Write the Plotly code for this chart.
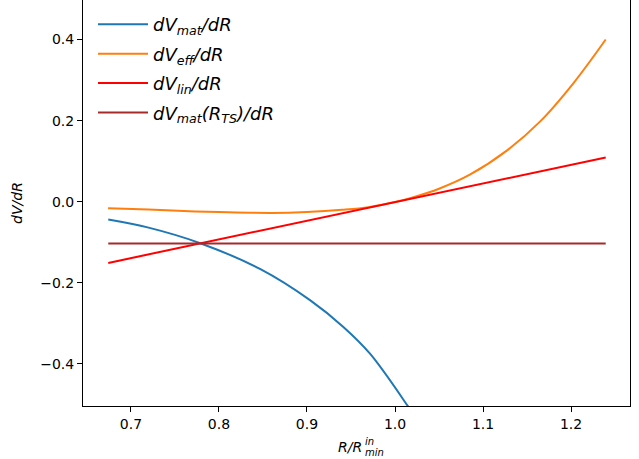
import plotly.graph_objects as go

# Data
r_mat = [0.6742, 0.72, 0.7795, 0.8466, 0.9034, 0.9413, 0.9716, 1.0148, 1.03]
dv_mat = [-0.044, -0.064, -0.103, -0.166, -0.243, -0.309, -0.375, -0.505, -0.555]

r_eff = [0.674, 0.72, 0.76, 0.80, 0.86, 0.90, 0.94, 0.97, 1.0, 1.02, 1.05, 1.085, 1.127, 1.165, 1.2026, 1.2394]
dv_eff = [-0.016, -0.0195, -0.023, -0.0255, -0.0278, -0.0255, -0.020, -0.0135, -0.001, 0.0105, 0.032, 0.0666, 0.126, 0.198, 0.292, 0.40]

r_lin = [0.6742, 1.2394]
dv_lin = [-0.151, 0.109]

r_ts = [0.6742, 1.2394]
dv_ts = [-0.103, -0.103]

x_ticks = [0.7, 0.8, 0.9, 1.0, 1.1, 1.2]
y_ticks = [-0.4, -0.2, 0.0, 0.2, 0.4]

FONT = "DejaVu Sans"

fig = go.Figure()
fig.add_trace(go.Scatter(x=r_mat, y=dv_mat, mode="lines", line=dict(color="#1f77b4", width=2, shape="spline"),
                         name="<i>dV<sub>mat</sub>/dR</i>", legendgroup="a"))
fig.add_trace(go.Scatter(x=r_eff, y=dv_eff, mode="lines", line=dict(color="#ff7f0e", width=2, shape="spline"),
                         name="<i>dV<sub>eff</sub>/dR</i>", legendgroup="b"))
fig.add_trace(go.Scatter(x=r_lin, y=dv_lin, mode="lines", line=dict(color="#ff0000", width=2),
                         name="<i>dV<sub>lin</sub>/dR</i>", legendgroup="c"))
fig.add_trace(go.Scatter(x=r_ts, y=dv_ts, mode="lines", line=dict(color="#a52a2a", width=2),
                         name="<i>dV<sub>mat</sub>(R<sub>TS</sub>)/dR</i>", legendgroup="d"))

fig.update_layout(
    width=639, height=459,
    margin=dict(l=83, r=9, t=0, b=53, autoexpand=False),
    paper_bgcolor="white", plot_bgcolor="white",
    font=dict(family=FONT, size=14, color="black"),
    showlegend=True,
    legend=dict(x=(93 - 83) / 547, y=0.985, xanchor="left", yanchor="top",
                font=dict(family=FONT, size=18, color="black"),
                bgcolor="rgba(255,255,255,0)", tracegroupgap=3, itemwidth=50),
    xaxis=dict(range=[0.6455, 1.267], tickvals=x_ticks, ticktext=[f"{v:.1f}" for v in x_ticks],
               showgrid=False, zeroline=False, showline=True, linecolor="black", linewidth=1,
               mirror=False, ticks="outside", ticklen=5, tickcolor="black", automargin=False,
               tickfont=dict(family=FONT, size=14)),
    yaxis=dict(range=[-0.504, 0.4975], tickvals=y_ticks,
               ticktext=["\u22120.4", "\u22120.2", "0.0", "0.2", "0.4"],
               showgrid=False, zeroline=False, showline=True, linecolor="black", linewidth=1,
               mirror=True, ticks="outside", ticklen=5, tickcolor="black", automargin=False,
               tickfont=dict(family=FONT, size=14),
               title=dict(text="<i>dV/dR</i>", font=dict(family=FONT, size=14), standoff=14)),
)

# x-axis label R/R^{in}_{min}
fig.add_annotation(xref="paper", yref="paper", x=(364 - 83) / 547, y=0, yshift=-41,
                   xanchor="right", yanchor="middle", showarrow=False,
                   text="<i>R/R</i>", font=dict(family=FONT, size=14))
fig.add_annotation(xref="paper", yref="paper", x=(363 - 83) / 547, y=0, yshift=-35,
                   xanchor="left", yanchor="middle", showarrow=False,
                   text="<i>in</i>", font=dict(family=FONT, size=10))
fig.add_annotation(xref="paper", yref="paper", x=(363 - 83) / 547, y=0, yshift=-46,
                   xanchor="left", yanchor="middle", showarrow=False,
                   text="<i>min</i>", font=dict(family=FONT, size=10))

fig.write_html("out.html", config={"displayModeBar": False},
               post_script="document.body.style.margin='0';document.body.style.overflow='hidden';")
